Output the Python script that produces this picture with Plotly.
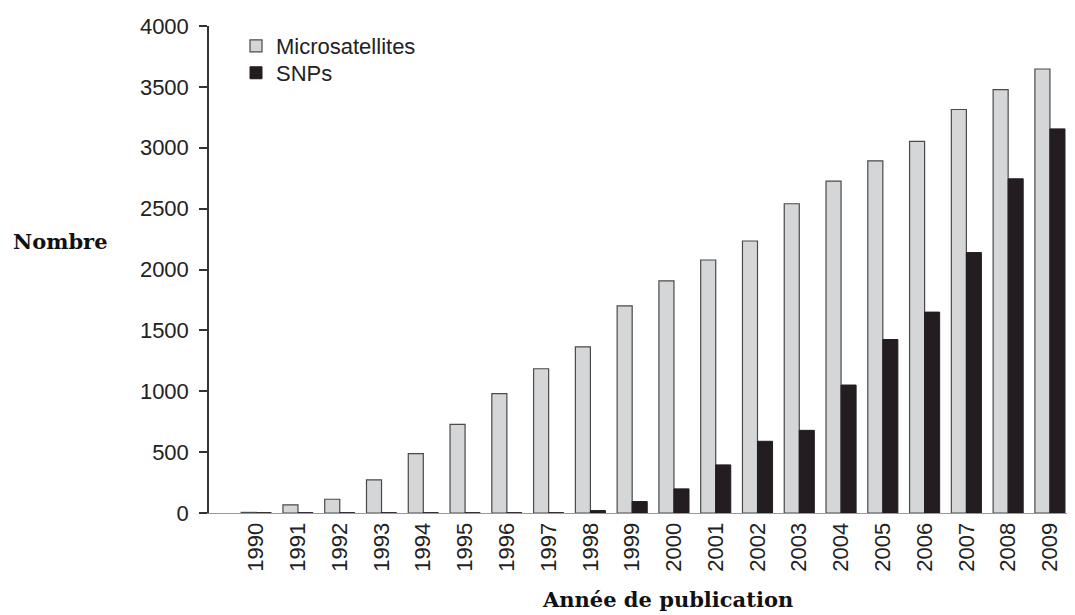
import plotly.graph_objects as go

years = [str(y) for y in range(1990, 2010)]
microsatellites = [5, 67, 113, 272, 488, 728, 980, 1185, 1365, 1701, 1906, 2078,
                   2234, 2540, 2726, 2893, 3052, 3314, 3478, 3647]
snps = [2, 2, 2, 2, 2, 2, 2, 2, 20, 94, 198, 395, 589, 679, 1051, 1425, 1650,
        2139, 2745, 3155]
y_ticks = [0, 500, 1000, 1500, 2000, 2500, 3000, 3500, 4000]

sans = "Liberation Sans, Arial, sans-serif"
serif = "DejaVu Serif, serif"

# page body has an 8px margin: figure occupies screen x 8..1075, y 8..615
OFF = 8
W, H = 1075 - OFF, 615 - OFF
L, T, B = 209 - OFF, 26 - OFF, 615 - 513.5
PW, PH = W - L, H - T - B

fig = go.Figure()
fig.add_trace(go.Bar(x=years, y=microsatellites, name="Microsatellites", legend="legend",
                     marker=dict(color="#d4d6d8", line=dict(color="#4a4a4a", width=1.2))))
fig.add_trace(go.Bar(x=years, y=snps, name="SNPs", legend="legend2",
                     marker=dict(color="#231c21", line=dict(color="#231c21", width=1))))

leg_common = dict(xanchor="left", yanchor="top", bgcolor="rgba(0,0,0,0)",
                  font=dict(family=sans, size=22, color="#222"))
fig.update_layout(
    width=W, height=H,
    margin=dict(l=L, r=0, t=T, b=B),
    paper_bgcolor="white", plot_bgcolor="white",
    barmode="group", bargap=0.28, bargroupgap=0,
    font=dict(family=sans, size=22, color="#222"),
    legend=dict(x=(236 - 209) / PW, y=(513.5 - 25) / PH, **leg_common),
    legend2=dict(x=(236 - 209) / PW, y=(513.5 - 52) / PH, **leg_common),
    xaxis=dict(type="category", range=[-1.13, 19.6], showgrid=False,
               showline=True, linecolor="#999", linewidth=1,
               ticks="", tickangle=-90, tickfont=dict(family=sans, size=22, color="#222"),
               zeroline=False),
    yaxis=dict(range=[0, 4000], tickvals=y_ticks, showgrid=False, zeroline=False,
               showline=True, linecolor="#333", linewidth=1.5,
               ticks="outside", ticklen=8, tickcolor="#333", tickwidth=1.5,
               ticklabelstandoff=6,
               tickfont=dict(family=sans, size=22, color="#222")),
    showlegend=True,
)

fig.add_annotation(text="<b>Nombre</b>", xref="paper", yref="paper",
                   x=(60 - 209) / PW, y=(513.5 - 242) / PH, xanchor="center", yanchor="middle",
                   showarrow=False, font=dict(family=serif, size=21, color="#111"))
fig.add_annotation(text="<b>Année de publication</b>", xref="paper", yref="paper",
                   x=(667.5 - 209) / PW, y=(513.5 - 600) / PH, xanchor="center", yanchor="middle",
                   showarrow=False, font=dict(family=serif, size=21, color="#111"))

fig.write_html("out.html")
